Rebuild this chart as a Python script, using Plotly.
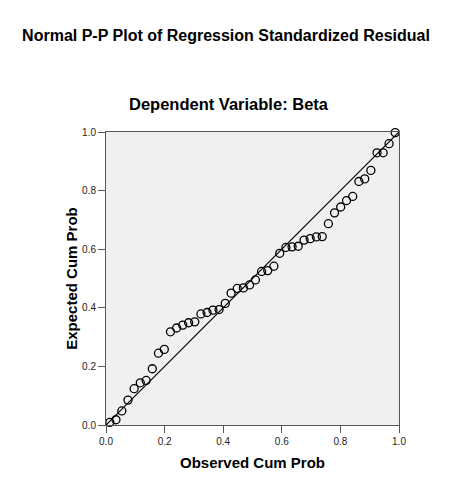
import plotly.graph_objects as go

# observed vs expected cumulative probabilities
observed = [0.013, 0.034, 0.054, 0.075, 0.096, 0.117, 0.137, 0.158, 0.179, 0.199,
            0.220, 0.241, 0.262, 0.282, 0.303, 0.324, 0.345, 0.365, 0.386, 0.407,
            0.427, 0.448, 0.469, 0.490, 0.510, 0.531, 0.552, 0.573, 0.593, 0.614,
            0.635, 0.656, 0.676, 0.697, 0.718, 0.738, 0.759, 0.780, 0.801, 0.821,
            0.842, 0.863, 0.883, 0.904, 0.925, 0.946, 0.966, 0.987]
expected = [0.009, 0.018, 0.048, 0.085, 0.124, 0.144, 0.152, 0.192, 0.245, 0.258,
            0.318, 0.331, 0.341, 0.349, 0.352, 0.379, 0.384, 0.392, 0.394, 0.415,
            0.450, 0.466, 0.468, 0.478, 0.495, 0.524, 0.527, 0.542, 0.586, 0.606,
            0.608, 0.610, 0.631, 0.636, 0.642, 0.643, 0.687, 0.724, 0.744, 0.766,
            0.780, 0.831, 0.840, 0.869, 0.929, 0.929, 0.960, 0.998]
ref_line = [0.0, 1.0]
tick_vals = [0.0, 0.2, 0.4, 0.6, 0.8, 1.0]
tick_text = ["0.0", "0.2", "0.4", "0.6", "0.8", "1.0"]

font_family = "Arial, Liberation Sans, sans-serif"

fig = go.Figure()
fig.add_trace(go.Scatter(x=ref_line, y=ref_line, mode="lines",
                         line=dict(color="black", width=1.2),
                         hoverinfo="skip", showlegend=False))
fig.add_trace(go.Scatter(x=observed, y=expected, mode="markers",
                         marker=dict(symbol="circle-open", size=8, color="black",
                                     line=dict(width=1.3)),
                         showlegend=False, cliponaxis=False))

axis_style = dict(range=[0, 1], tickvals=tick_vals, ticktext=tick_text,
                  showgrid=False, zeroline=False,
                  showline=True, linecolor="#555555", linewidth=1, mirror=True,
                  ticks="outside", ticklen=7, tickcolor="#555555", tickwidth=1,
                  tickfont=dict(family=font_family, size=10, color="#222222"))

fig.update_xaxes(axis_style,
                 title=dict(text="<b>Observed Cum Prob</b>", standoff=11,
                            font=dict(family=font_family, size=15, color="black")))
fig.update_yaxes(axis_style,
                 title=dict(text="<b>Expected Cum Prob</b>", standoff=0,
                            font=dict(family=font_family, size=15, color="black")))

fig.add_annotation(text="<b>Dependent Variable: Beta</b>", xref="paper", yref="paper",
                   x=0.42, y=1.0956, xanchor="center", yanchor="middle",
                   showarrow=False,
                   font=dict(family=font_family, size=16.5, color="black"))

# page body adds 8px offset, so figure is 8px smaller and margins shifted
fig.update_layout(
    width=458, height=490,
    margin=dict(l=98, r=67, t=124, b=73),
    paper_bgcolor="white", plot_bgcolor="#F0F0F0",
    title=dict(text="<b>Normal P-P Plot of Regression Standardized Residual</b>",
               x=0.476, xanchor="center", y=0.9435, yanchor="middle",
               font=dict(family=font_family, size=16, color="black")),
)

fig.write_html("out.html")
